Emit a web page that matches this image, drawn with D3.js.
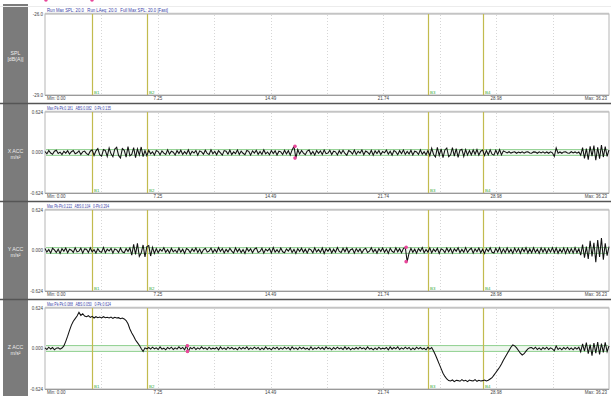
<!DOCTYPE html>
<html>
<head>
<meta charset="utf-8">
<script src="https://cdn.jsdelivr.net/npm/d3@7"></script>
<style>
  html, body { margin: 0; padding: 0; background: #ffffff; }
  svg { display: block; font-family: "Liberation Sans", Arial, sans-serif; }
</style>
</head>
<body>
<svg id="chart" width="611" height="396"></svg>
<script>
// ---------------- DATA ----------------
const durationSec = 36.23;
const xTickLabels = ["Min: 0.00", "7.25", "14.49", "21.74", "28.98", "Max: 36.23"];
const panelNames = ["SPL", "X ACC", "Y ACC", "Z ACC"];
const panelUnits = ["[dB(A)]", "m/s\u00B2", "m/s\u00B2", "m/s\u00B2"];
const panelHeaders = [
  "Run Max SPL: 20.0   Run LAeq: 20.0   Full Max SPL: 20.0 [Fast]",
  "Max Pk-Pk:0.181   ABS:0.082   0-Pk:0.135",
  "Max Pk-Pk:0.222   ABS:0.104   0-Pk:0.294",
  "Max Pk-Pk:0.088   ABS:0.050   0-Pk:0.624"
];
const splTickLabels = ["-26.0", "-29.0"];
const accTickLabels = ["0.624", "0.000", "-0.624"];
const accRange = 0.624;
const splRange = [-29.0, -26.0];
const bookmarkNames = ["B1", "B2", "B3", "B4"];
const bookmarkTimes = [3.04, 6.53, 24.58, 28.16];
const thresholdBand = 0.045;

// acceleration samples, in 0.001 m/s^2, evenly spaced over the run
const xAccMilli = [
  15,-22,30,-8,-28,20,35,-15,5,-32,18,-10,28,-25,12,30,-20,-5,25,-30,10,22,-18,-35,20,
  40,-45,25,60,-35,-55,45,30,-60,70,-20,-65,55,80,-45,-85,60,35,-70,90,-50,-30,75,-80,55,-40,85,-65,30,-50,
  35,-20,10,-40,30,15,-35,25,-10,-30,
  40,-25,20,5,-38,28,-15,35,-30,12,
  -22,40,-35,18,-8,30,-42,25,10,-28,
  35,-15,-30,42,-20,15,-35,28,-5,-40,
  30,20,-25,38,-32,10,-18,40,-30,22,
  -12,-35,30,18,-40,25,-10,35,-28,15,
  -30,40,-20,8,-35,30,-15,25,-38,20,
  10,-30,35,-22,28,-40,
  40,95,-86,45,
  -25,30,-10,-35,22,38,-28,15,-40,30,
  -12,25,-30,40,-18,-8,35,-32,20,10,
  -38,28,-20,35,-15,-42,30,12,-25,38,
  -30,18,-10,40,-35,22,5,-28,35,-40,
  25,-15,30,-32,15,-5,38,-25,20,-40,
  30,10,-35,28,-18,40,-30,15,-22,35,
  -38,20,8,-30,42,-25,12,-35,30,
  -50,65,-30,-70,80,-45,55,-80,40,70,-65,-35,75,-55,60,-75,35,50,-60,45,-40,30,
  -35,40,-28,45,-40,20,38,-45,30,-35,42,-25,-40,35,-30,45,-38,25,
  10,-6,12,-9,5,11,-12,8,-5,10,
  -10,7,12,-8,-11,9,6,-12,10,-7,
  11,-9,8,-12,10,-5,-60,70,-10,8,
  -12,9,11,-8,-10,12,-6,9,-11,8,
  -40,75,-90,60,-110,95,-55,105,-120,80,-95,115,-70,90,-60,40
];
const yAccMilli = [
  30,-25,15,-40,35,10,-30,22,-45,28,
  -12,38,-35,20,5,-30,42,-22,-10,35,
  -40,25,18,-32,40,-20,12,-38,30,-15,
  -28,45,-35,20,-8,32,-42,25,10,-30,
  38,-20,-35,28,-15,40,
  -70,95,-60,110,-90,-40,85,-100,60,75,-85,50,-45,
  30,-35,20,-10,42,-28,15,-40,35,-20,
  8,-32,38,-25,20,-45,30,12,-35,25,
  -15,40,-30,22,-42,10,35,-25,-8,38,
  -35,20,-28,45,-15,30,-40,18,-22,35,
  -10,-38,42,-20,25,-32,15,-45,38,-12,
  28,-35,20,40,-30,-15,35,-42,22,-8,
  30,-38,45,-25,12,-30,38,-20,-35,25,
  -10,40,-32,18,-45,30,-15,35,-28,20,
  -40,28,10,-35,42,-22,15,-30,38,-45,
  25,-12,32,-38,20,-28,45,-15,-30,35,
  -20,40,-35,12,28,-42,30,-18,25,-38,
  15,35,-30,-10,42,-25,20,-40,30,-15,
  38,-28,22,-45,35,-12,-30,40,-20,28,
  -35,
  30,50,-172,-40,
  35,-28,20,-42,30,-10,45,-35,15,-25,
  40,-38,22,-15,35,-45,28,10,-32,38,
  -20,30,-40,25,-12,42,-35,18,-28,45,
  -30,12,35,-42,25,-20,38,-35,20,-45,
  30,-15,42,-28,-38,35,-22,45,-40,25,
  -35,40,-30,20,-45,38,-25,30,-42,35,
  -20,45,-38,28,-35,42,-30,22,-45,40,
  -28,35,-40,30,-25,45,-35,38,-42,25,
  -30,40,-45,35,-38,30,-40,45,-35,28,
  -70,90,-110,60,-130,150,-90,120,-180,160,-100,190,-140,110,-80,60
];
const zAccMilli = [
  10,-15,20,-8,15,-20,5,12,-10,8,
  40,110,190,280,360,420,460,500,557,510,535,500,
  490,505,480,495,470,490,475,485,470,490,475,480,470,485,465,480,470,475,460,470,455,
  430,380,300,240,190,130,90,50,0,-45,10,-5,
  15,-10,20,-5,10,-15,25,-10,5,-20,
  15,-5,20,-15,10,-10,25,-5,15,-20,
  43,-45,15,-5,20,-15,10,-10,25,-5,
  10,-15,20,-10,5,-5,15,-20,25,-10,
  10,-15,20,-5,15,-10,5,-20,20,-10,
  15,-5,25,-15,10,-10,20,-5,15,-20,
  10,-15,25,-10,5,-20,15,-5,20,-15,
  10,-10,20,-5,15,-20,25,-10,10,-15,
  20,-5,15,-10,5,-20,25,-15,10,-5,
  20,-10,15,-15,25,-5,10,-20,15,-10,
  20,-5,10,-15,25,-10,15,-20,5,-10,
  15,-10,20,-5,10,-15,25,-10,5,-20,
  10,-15,20,-10,5,-5,15,-20,25,-10,
  15,-5,25,-15,10,-10,20,-5,15,-20,
  10,-15,20,-5,15,-10,5,-20,20,-10,
  15,
  -40,-100,-170,-240,-310,-380,-430,-470,-495,
  -500,-485,-510,-490,-495,-505,-480,-500,-490,-510,-485,-495,-500,-480,-505,-490,-500,-495,-485,-500,-490,-470,
  -450,-410,-370,-330,-290,-240,-180,-130,-80,-30,20,55,40,10,-30,-70,-100,-80,-40,-5,10,
  15,-10,20,-15,10,-20,15,-10,20,-15,10,-5,-35,40,-15,10,-20,15,-10,20,-15,10,-20,15,-10,20,
  -50,70,-40,90,-80,60,-110,85,-70,100,-90,75,-60,95,-50,40
];
// max peak-to-peak event markers (time s, max m/s^2, min m/s^2)
const pkTimes = [null, 16.06, 23.20, 9.15];
const pkMax = [null, 0.095, 0.05, 0.043];
const pkMin = [null, -0.086, -0.172, -0.045];
const topMarkerTimes = [0.06, 3.02];

// ---------------- DRAW ----------------
const svg = d3.select("#chart");
const W = 611;
const plotLeft = 45, plotRight = 609;
const panelTops = [14, 112, 210, 308];
const plotH = 81;
const headerWidths = [121, 64, 62, 64];

const x = d3.scaleLinear().domain([0, durationSec]).range([plotLeft, plotRight]);
const gridTicks = d3.range(0, 11).map(k => k * durationSec / 10);

svg.append("rect").attr("x", 3).attr("y", 4).attr("width", 25).attr("height", 392)
  .attr("fill", "#7b7b7b");

svg.append("line").attr("x1", 0).attr("x2", W).attr("y1", 6.5).attr("y2", 6.5)
  .attr("stroke", "#ececec").attr("stroke-width", 1);

const series = [null, xAccMilli, yAccMilli, zAccMilli];

panelTops.forEach((top, p) => {
  const bottom = top + plotH;
  const g = svg.append("g");
  const y = p === 0
    ? d3.scaleLinear().domain(splRange).range([bottom, top])
    : d3.scaleLinear().domain([-accRange, accRange]).range([bottom, top]);

  if (p < 3) {
    svg.append("line").attr("x1", 0).attr("x2", W)
      .attr("y1", bottom + 8.5).attr("y2", bottom + 8.5)
      .attr("stroke", "#555").attr("stroke-width", 1.5);
  }

  g.append("rect").attr("x", plotLeft).attr("y", top)
    .attr("width", plotRight - plotLeft).attr("height", plotH)
    .attr("fill", "#fff").attr("stroke", "#b5b5b5").attr("stroke-width", 1);
  g.append("line").attr("x1", plotLeft).attr("x2", plotRight)
    .attr("y1", top - 0.5).attr("y2", top - 0.5)
    .attr("stroke", "#c4c4c4").attr("stroke-width", 1.5);
  g.append("line").attr("x1", plotLeft).attr("x2", plotRight)
    .attr("y1", bottom + 0.5).attr("y2", bottom + 0.5)
    .attr("stroke", "#9a9a9a").attr("stroke-width", 1);

  g.selectAll("line.grid").data(gridTicks.slice(1, 10)).enter().append("line")
    .attr("x1", d => Math.round(x(d)) + 0.5).attr("x2", d => Math.round(x(d)) + 0.5)
    .attr("y1", top + 1).attr("y2", bottom)
    .attr("stroke", "#d6d6d6").attr("stroke-width", 1).attr("stroke-dasharray", "1,2");

  if (p > 0) {
    g.append("rect").attr("x", plotLeft + 1).attr("width", plotRight - plotLeft - 2)
      .attr("y", y(thresholdBand)).attr("height", y(-thresholdBand) - y(thresholdBand))
      .attr("fill", "#eef6ee");
    [thresholdBand, -thresholdBand].forEach(v => {
      g.append("line").attr("x1", plotLeft + 1).attr("x2", plotRight - 1)
        .attr("y1", y(v)).attr("y2", y(v))
        .attr("stroke", "#8fd08f").attr("stroke-width", 1);
    });
  }

  g.selectAll("line.bm").data(bookmarkTimes).enter().append("line")
    .attr("x1", d => Math.round(x(d)) + 0.5).attr("x2", d => Math.round(x(d)) + 0.5)
    .attr("y1", top).attr("y2", bottom)
    .attr("stroke", "#c2bb4e").attr("stroke-width", 1.2);
  g.selectAll("text.bm").data(bookmarkTimes).enter().append("text")
    .attr("x", d => Math.round(x(d)) + 2).attr("y", bottom - 1)
    .attr("font-size", 4.4).attr("fill", "#3caa3c")
    .text((d, i) => bookmarkNames[i]);

  if (series[p]) {
    const data = series[p];
    const n = data.length;
    const line = d3.line()
      .x((d, i) => x(i * durationSec / (n - 1)))
      .y(d => y(d / 1000));
    g.append("path").datum(data).attr("d", line)
      .attr("fill", "none").attr("stroke", "#111").attr("stroke-width", 1.05)
      .attr("stroke-linejoin", "miter");
    [pkMax[p], pkMin[p]].forEach(v => {
      g.append("circle").attr("cx", x(pkTimes[p])).attr("cy", y(v)).attr("r", 1.8)
        .attr("fill", "#e8479a");
    });
  }

  g.append("text").attr("x", plotLeft + 2).attr("y", top - 2.5)
    .attr("font-size", 5).attr("fill", "#3a3fa8")
    .attr("textLength", headerWidths[p]).attr("lengthAdjust", "spacingAndGlyphs")
    .attr("xml:space", "preserve")
    .text(panelHeaders[p]);

  const labels = p === 0 ? splTickLabels : accTickLabels;
  const vals = p === 0 ? [splRange[1], splRange[0]] : [accRange, 0, -accRange];
  labels.forEach((t, i) => {
    g.append("text").attr("x", plotLeft - 2).attr("y", y(vals[i]) + 1.7)
      .attr("text-anchor", "end").attr("font-size", 4.5).attr("fill", "#444").text(t);
  });

  const labTimes = [0, gridTicks[2], gridTicks[4], gridTicks[6], gridTicks[8], durationSec];
  xTickLabels.forEach((t, i) => {
    let anchor = "middle", xx = x(labTimes[i]);
    if (i === 0) { anchor = "start"; xx = plotLeft + 2; }
    if (i === xTickLabels.length - 1) { anchor = "end"; xx = plotRight - 2; }
    g.append("text").attr("x", xx).attr("y", bottom + 5.4)
      .attr("text-anchor", anchor).attr("font-size", 4.5).attr("fill", "#444").text(t);
  });

  const cy = (top + bottom) / 2;
  svg.append("text").attr("x", 15.5).attr("y", cy).attr("text-anchor", "middle")
    .attr("font-size", 5.2).attr("fill", "#eeeeee").text(panelNames[p]);
  svg.append("text").attr("x", 15.5).attr("y", cy + 6.5).attr("text-anchor", "middle")
    .attr("font-size", 5.2).attr("fill", "#eeeeee").text(panelUnits[p]);
});

svg.selectAll("circle.topm").data(topMarkerTimes).enter().append("circle")
  .attr("cx", d => x(d)).attr("cy", 0).attr("r", 1.8).attr("fill", "#e8479a");
</script>
</body>
</html>
